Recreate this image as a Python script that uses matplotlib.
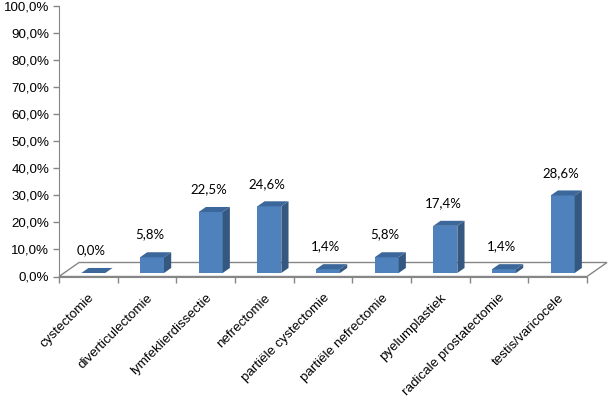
import matplotlib
matplotlib.use("Agg")
import matplotlib.pyplot as plt
from matplotlib.patches import Polygon

categories = ["cystectomie", "diverticulectomie", "lymfeklierdissectie", "nefrectomie",
              "partiële cystectomie", "partiële nefrectomie", "pyelumplastiek",
              "radicale prostatectomie", "testis/varicocele"]
values = [0.0, 5.8, 22.5, 24.6, 1.4, 5.8, 17.4, 1.4, 28.6]
yticks = [0, 10, 20, 30, 40, 50, 60, 70, 80, 90, 100]
ytick_labels = [f"{t:.1f}%".replace(".", ",") for t in yticks]
value_labels = [f"{v:.1f}%".replace(".", ",") for v in values]

W, H = 609, 398
fig = plt.figure(figsize=(W / 100, H / 100), dpi=100)
x0, x1 = 59, 587
y0, y1 = 276.5, 5.5
ax = fig.add_axes([x0 / W, 1 - y0 / H, (x1 - x0) / W, (y0 - y1) / H])
ax.set_xlim(0, len(categories))
ax.set_ylim(0, 100)
ax.set_facecolor("none")

pxx = len(categories) / (x1 - x0)   # data units per px horizontally
pxy = 100 / (y0 - y1)                # data units per px vertically
Ddx, Ddy = 20 * pxx, 14 * pxy       # full floor depth vector

gray = "#868686"
floor = Polygon([(0, 0), (Ddx, Ddy), (len(categories) + Ddx, Ddy), (len(categories), 0)],
                closed=True, facecolor="none", edgecolor=gray, lw=1.0, clip_on=False, zorder=1)
ax.add_patch(floor)

front_col = "#4F81BD"
side_col = "#34587F"
top_col = "#3C679A"
bw = 24 * pxx
f0, f1 = 0.25, 0.61
for i, v in enumerate(values):
    cx = i + 0.5
    xl = cx - bw / 2 + f0 * Ddx
    yb = f0 * Ddy
    ddx, ddy = (f1 - f0) * Ddx, (f1 - f0) * Ddy
    xr = xl + bw
    yt = yb + v
    ax.add_patch(Polygon([(xl, yb), (xr, yb), (xr, yt), (xl, yt)], closed=True,
                         facecolor=front_col, edgecolor="none", zorder=3, clip_on=False))
    ax.add_patch(Polygon([(xr, yb), (xr + ddx, yb + ddy), (xr + ddx, yt + ddy), (xr, yt)],
                         closed=True, facecolor=side_col, edgecolor="none", zorder=3, clip_on=False))
    ax.add_patch(Polygon([(xl, yt), (xr, yt), (xr + ddx, yt + ddy), (xl + ddx, yt + ddy)],
                         closed=True, facecolor=top_col, edgecolor="none", zorder=3, clip_on=False))
    ax.annotate(value_labels[i], xy=(cx + 0.05, yt), xytext=(0, 12), textcoords="offset points",
                ha="center", va="bottom", fontsize=9.5, family="Lato", color="#000000")

for s in ["top", "right"]:
    ax.spines[s].set_visible(False)
ax.spines["left"].set_color(gray)
ax.spines["bottom"].set_color(gray)
ax.set_yticks(yticks)
ax.set_yticklabels(ytick_labels, fontsize=9.6, family="Liberation Sans")
ax.set_xticks(range(len(categories) + 1))
ax.set_xticklabels([])
ax.tick_params(axis="both", colors=gray, length=4, width=1, direction="out")
ax.tick_params(axis="y", labelcolor="#000000", pad=3)

for i, c in enumerate(categories):
    ax.annotate(c, xy=(i + 0.5, 0), xytext=(3, -14), textcoords="offset points",
                ha="right", va="center", rotation=45, rotation_mode="anchor",
                fontsize=9.6, family="Liberation Sans", color="#000000")

fig.savefig("out.png", dpi=100, facecolor="white")
